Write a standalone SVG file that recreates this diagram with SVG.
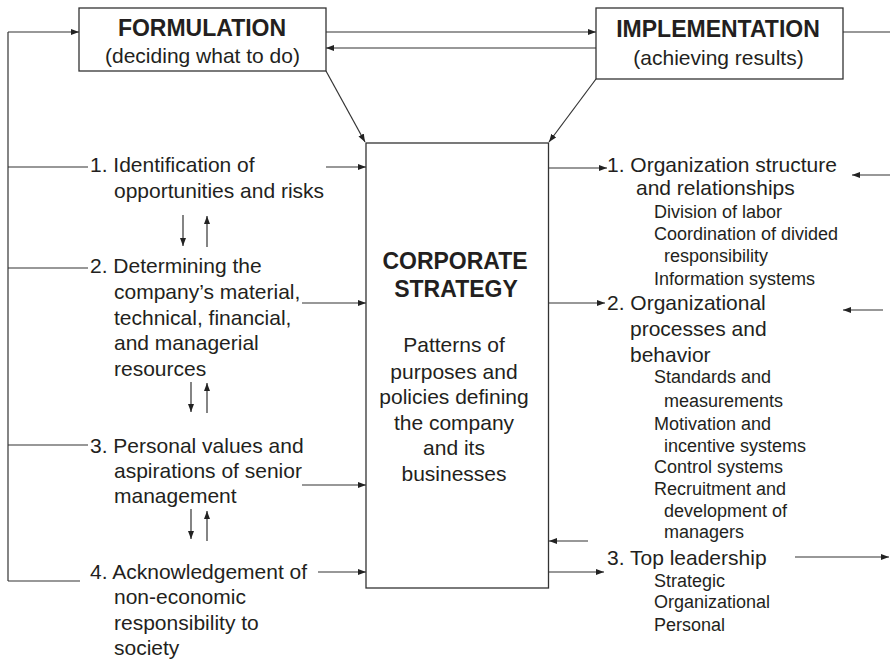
<svg xmlns="http://www.w3.org/2000/svg" width="890" height="660" viewBox="0 0 890 660">
<style>
  .box { fill: #fff; stroke: #333; stroke-width: 1.3; }
  .ln { fill: none; stroke: #333; stroke-width: 1.2; }
  .t { font-family: "Liberation Sans", Arial, sans-serif; fill: #231f20; }
  .h { font-size: 23px; font-weight: bold; }
  .m { font-size: 21px; }
  .s { font-size: 18px; }
  .c { text-anchor: middle; }
</style>
<defs>
  <marker id="ah" markerUnits="userSpaceOnUse" markerWidth="9" markerHeight="7" refX="8" refY="3" orient="auto">
    <path d="M0,0 L8,3 L0,6 z" fill="#222"/>
  </marker>
</defs>
<rect width="890" height="660" fill="#fff"/>

<g id="connectors">
  <path class="ln" d="M8,32 V581"/>
  <path class="ln" d="M8,32 H79" marker-end="url(#ah)"/>
  <path class="ln" d="M8,167 H88"/>
  <path class="ln" d="M8,268 H88"/>
  <path class="ln" d="M8,445 H88"/>
  <path class="ln" d="M8,581 H80"/>
  <path class="ln" d="M326,32 H596" marker-end="url(#ah)"/>
  <path class="ln" d="M596,48 H326" marker-end="url(#ah)"/>
  <path class="ln" d="M843,32 H890"/>
  <path class="ln" d="M326,71 L365,142" marker-end="url(#ah)"/>
  <path class="ln" d="M596,79 L549,142" marker-end="url(#ah)"/>
  <path class="ln" d="M326,167 H366" marker-end="url(#ah)"/>
  <path class="ln" d="M302,303 H366" marker-end="url(#ah)"/>
  <path class="ln" d="M302,485 H366" marker-end="url(#ah)"/>
  <path class="ln" d="M318,572 H366" marker-end="url(#ah)"/>
  <path class="ln" d="M183,215 V246" marker-end="url(#ah)"/>
  <path class="ln" d="M207,247 V216" marker-end="url(#ah)"/>
  <path class="ln" d="M191,382 V412" marker-end="url(#ah)"/>
  <path class="ln" d="M207,413 V383" marker-end="url(#ah)"/>
  <path class="ln" d="M191,509 V539" marker-end="url(#ah)"/>
  <path class="ln" d="M207,541 V511" marker-end="url(#ah)"/>
  <path class="ln" d="M549,168 H607" marker-end="url(#ah)"/>
  <path class="ln" d="M549,303 H605" marker-end="url(#ah)"/>
  <path class="ln" d="M890,175 H852" marker-end="url(#ah)"/>
  <path class="ln" d="M883,310 H843" marker-end="url(#ah)"/>
  <path class="ln" d="M588,541 H549" marker-end="url(#ah)"/>
  <path class="ln" d="M549,572 H604" marker-end="url(#ah)"/>
  <path class="ln" d="M795,557 H889" marker-end="url(#ah)"/>
</g>

<g id="formulation">
  <rect class="box" x="79" y="8" width="247" height="63"/>
  <text class="t h c" x="202" y="36">FORMULATION</text>
  <text class="t m c" x="202.5" y="63">(deciding what to do)</text>
</g>

<g id="implementation">
  <rect class="box" x="596" y="8" width="247" height="71"/>
  <text class="t h c" x="718" y="37">IMPLEMENTATION</text>
  <text class="t m c" x="718.5" y="65">(achieving results)</text>
</g>

<g id="corporate-strategy">
  <rect class="box" x="366" y="143" width="182.5" height="445"/>
  <text class="t h c" x="455" y="269">CORPORATE</text>
  <text class="t h c" x="456" y="297">STRATEGY</text>
  <text class="t m c" x="454" y="352">Patterns of</text>
  <text class="t m c" x="454" y="379">purposes and</text>
  <text class="t m c" x="454" y="404">policies defining</text>
  <text class="t m c" x="454" y="430">the company</text>
  <text class="t m c" x="454" y="455">and its</text>
  <text class="t m c" x="454" y="481">businesses</text>
</g>

<g id="f1">
  <text class="t m" x="90" y="172">1. Identification of</text>
  <text class="t m" x="114" y="198">opportunities and risks</text>
</g>
<g id="f2">
  <text class="t m" x="90" y="273">2. Determining the</text>
  <text class="t m" x="114" y="299">company’s material,</text>
  <text class="t m" x="114" y="325">technical, financial,</text>
  <text class="t m" x="114" y="350">and managerial</text>
  <text class="t m" x="114" y="376">resources</text>
</g>
<g id="f3">
  <text class="t m" x="90" y="453">3. Personal values and</text>
  <text class="t m" x="114" y="478">aspirations of senior</text>
  <text class="t m" x="114" y="503">management</text>
</g>
<g id="f4">
  <text class="t m" x="90" y="579">4. Acknowledgement of</text>
  <text class="t m" x="114" y="604">non-economic</text>
  <text class="t m" x="114" y="630">responsibility to</text>
  <text class="t m" x="114" y="655">society</text>
</g>

<g id="i1">
  <text class="t m" x="607" y="172">1. Organization structure</text>
  <text class="t m" x="636" y="195">and relationships</text>
  <text class="t s" x="654" y="218">Division of labor</text>
  <text class="t s" x="654" y="240">Coordination of divided</text>
  <text class="t s" x="664" y="262">responsibility</text>
  <text class="t s" x="654" y="285">Information systems</text>
</g>
<g id="i2">
  <text class="t m" x="607" y="310">2. Organizational</text>
  <text class="t m" x="630" y="336">processes and</text>
  <text class="t m" x="630" y="362">behavior</text>
  <text class="t s" x="654" y="383">Standards and</text>
  <text class="t s" x="664" y="407">measurements</text>
  <text class="t s" x="654" y="430">Motivation and</text>
  <text class="t s" x="664" y="452">incentive systems</text>
  <text class="t s" x="654" y="473">Control systems</text>
  <text class="t s" x="654" y="495">Recruitment and</text>
  <text class="t s" x="664" y="517">development of</text>
  <text class="t s" x="664" y="538">managers</text>
</g>
<g id="i3">
  <text class="t m" x="607" y="565">3. Top leadership</text>
  <text class="t s" x="654" y="587">Strategic</text>
  <text class="t s" x="654" y="608">Organizational</text>
  <text class="t s" x="654" y="631">Personal</text>
</g>
</svg>
